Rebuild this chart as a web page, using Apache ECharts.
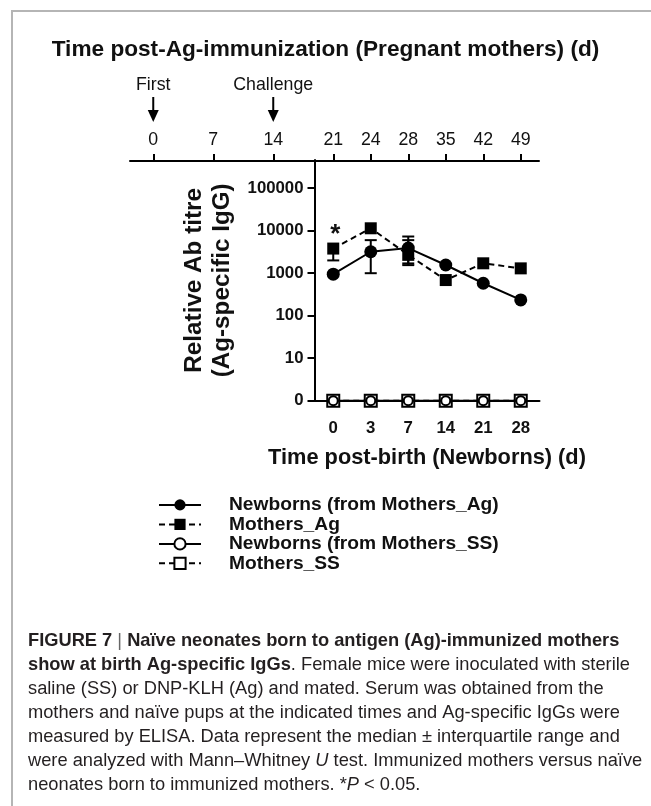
<!DOCTYPE html>
<html><head><meta charset="utf-8">
<script src="https://cdn.jsdelivr.net/npm/echarts@6/dist/echarts.min.js"></script>
<style>html,body{margin:0;padding:0;background:#fff}#c{width:651px;height:806px}</style>
</head><body><div id="c"></div>
<script>
// ---------- data ----------
const newbornDays = ['0', '3', '7', '14', '21', '28'];          // bottom axis (post-birth)
const motherDays = [0, 7, 14, 21, 24, 28, 35, 42, 49];          // top axis (post-immunization)
const yTickValues = [1, 10, 100, 1000, 10000, 100000];           // 1 is labelled "0"
const newbornsAg = [950, 3200, 3900, 1560, 580, 235];
const newbornsAgLow = [null, 1000, 1700, null, null, null];
const newbornsAgHigh = [null, 6000, 7300, null, null, null];
const mothersAg = [3800, 11400, 2700, 690, 1710, 1300];
const mothersAgLow = [2000, null, 1550, null, null, null];
const mothersAgHigh = [null, null, 6000, null, null, null];
const newbornsSS = [1, 1, 1, 1, 1, 1];   // undetectable -> axis floor labelled "0"
const mothersSS = [1, 1, 1, 1, 1, 1];
const seriesNames = ['Newborns (from Mothers_Ag)', 'Mothers_Ag', 'Newborns (from Mothers_SS)', 'Mothers_SS'];
const titleText = 'Time post-Ag-immunization (Pregnant mothers) (d)';
const xNameText = 'Time post-birth (Newborns) (d)';
const yNameLines = ['Relative Ab titre', '(Ag-specific IgG)'];
const annotations = [{day: 0, text: 'First'}, {day: 14, text: 'Challenge'}];
const capLines = [
  '{b|FIGURE 7} {bar||} {b|Naïve neonates born to antigen (Ag)-immunized mothers}',
  '{b|show at birth Ag-specific IgGs}{n|. Female mice were inoculated with sterile}',
  '{n|saline (SS) or DNP-KLH (Ag) and mated. Serum was obtained from the}',
  '{n|mothers and naïve pups at the indicated times and Ag-specific IgGs were}',
  '{n|measured by ELISA. Data represent the median ± interquartile range and}',
  '{n|were analyzed with Mann–Whitney }{i|U}{n| test. Immunized mothers versus naïve}',
  '{n|neonates born to immunized mothers. *}{i|P}{n| < 0.05.}'
];

// ---------- fonts: sizes fitted to the text widths of the figure ----------
const SANS = "'Liberation Sans', Arial, Helvetica, sans-serif";
const cv = document.createElement('canvas').getContext('2d');
function widthAt100(weight, text) { cv.font = weight + ' 100px ' + SANS; return cv.measureText(text).width; }
function fit(weight, text, target) { return +(target / widthAt100(weight, text) * 100).toFixed(2); }
const fsTitle = fit('bold', titleText, 548);
const fsXName = fit('bold', xNameText, 318);
const fsYName = fit('bold', yNameLines[1], 194);
const fsLegend = fit('bold', seriesNames[0], 270);
const fsTick = fit('bold', '100000', 56);
const fsTop = fit('normal', 'Challenge', 80);
const fsCap = fit('normal', 'mothers and naïve pups at the indicated times and Ag-specific IgGs were', 592);
const INK = '#111';

// ---------- layout ----------
const gA = {left: 314.5, width: 225, top: 160, height: 240.7};
const band = gA.width / newbornDays.length;
const origin = gA.left + band / 2;
const topLeft = 130, topRight = 539;
function toU(d) { return d >= 21 ? newbornDays.indexOf(String(d - 21)) : (d - 21) * 4.8 / 21; }
const topU = motherDays.map(toU);
const yNameLH = fsYName * 1.15;
const legendPitch = 19.7;

const chart = echarts.init(document.getElementById('c'), null, {renderer: 'canvas'});

function errRender(lowArr, highArr) {
  return function (params, api) {
    const i = api.value(0);
    const children = [];
    const c = api.coord([i, api.value(1)]);
    const cap = 6;
    [lowArr[i], highArr[i]].forEach(v => {
      if (v == null) return;
      const p = api.coord([i, v]);
      children.push({type: 'line', shape: {x1: c[0], y1: c[1], x2: p[0], y2: p[1]}, style: {stroke: '#000', lineWidth: 2}});
      children.push({type: 'line', shape: {x1: p[0] - cap, y1: p[1], x2: p[0] + cap, y2: p[1]}, style: {stroke: '#000', lineWidth: 2}});
    });
    return {type: 'group', children};
  };
}

const option = {
  backgroundColor: '#fff',
  animation: false,
  title: {
    text: titleText, left: 'center', top: 46 - fsTitle / 2 - 1,
    textStyle: {fontFamily: SANS, fontWeight: 'bold', fontSize: fsTitle, color: INK}
  },
  legend: {
    orient: 'vertical', left: 158, top: 505 - fsLegend / 2, padding: 0,
    itemWidth: 42, itemHeight: 14, itemGap: legendPitch - fsLegend,
    data: seriesNames,
    textStyle: {fontFamily: SANS, fontWeight: 'bold', fontSize: fsLegend, color: INK, padding: [0, 0, 0, 23]}
  },
  grid: [
    {left: gA.left, width: gA.width, top: gA.top, height: gA.height},
    {left: topLeft, width: topRight - topLeft, top: gA.top, height: 1}
  ],
  xAxis: [
    {
      type: 'category', gridIndex: 0, data: newbornDays, boundaryGap: true,
      name: xNameText, nameLocation: 'middle', nameGap: 458 - 401 - fsXName / 2,
      nameTextStyle: {fontFamily: SANS, fontWeight: 'bold', fontSize: fsXName, color: INK},
      axisLine: {lineStyle: {color: '#000', width: 2}},
      axisTick: {show: false},
      axisLabel: {fontFamily: SANS, fontWeight: 'bold', fontSize: fsTick, color: INK, margin: 28 - fsTick / 2, interval: 0},
      splitLine: {show: false}
    },
    {
      type: 'value', gridIndex: 1, position: 'top',
      min: (topLeft - origin) / band, max: (topRight - origin) / band,
      axisLine: {lineStyle: {color: '#000', width: 2}},
      axisTick: {customValues: topU, length: 7, lineStyle: {color: '#000', width: 2}},
      axisLabel: {
        customValues: topU, margin: 20 - fsTop / 2, fontFamily: SANS, fontSize: fsTop, color: INK,
        formatter: v => { const k = topU.findIndex(u => Math.abs(u - v) < 1e-6); return k >= 0 ? String(motherDays[k]) : ''; }
      },
      splitLine: {show: false}
    }
  ],
  yAxis: [
    {
      type: 'log', logBase: 10, gridIndex: 0, min: 1, max: 461000,
      name: yNameLines.join('\n'), nameLocation: 'middle', nameRotate: 90, nameGap: 315 - 222 - yNameLH / 2 - 1,
      nameTextStyle: {fontFamily: SANS, fontWeight: 'bold', fontSize: fsYName, color: INK, lineHeight: yNameLH},
      axisLine: {show: true, lineStyle: {color: '#000', width: 2}},
      axisTick: {show: true, length: 7, lineStyle: {color: '#000', width: 2}},
      axisLabel: {
        fontFamily: SANS, fontWeight: 'bold', fontSize: fsTick, color: INK, margin: 11, showMaxLabel: false,
        formatter: v => { const r = Math.round(v); return r === 1 ? '0' : (yTickValues.indexOf(r) >= 0 ? String(r) : ''); }
      },
      splitLine: {show: false}
    },
    {type: 'value', gridIndex: 1, show: false}
  ],
  series: [
    {
      name: seriesNames[0], type: 'line', xAxisIndex: 0, yAxisIndex: 0, data: newbornsAg, clip: false,
      symbol: 'circle', symbolSize: 13, itemStyle: {color: '#000'}, lineStyle: {color: '#000', width: 2}, z: 4
    },
    {
      name: seriesNames[1], type: 'line', xAxisIndex: 0, yAxisIndex: 0, data: mothersAg, clip: false,
      symbol: 'rect', symbolSize: 12, itemStyle: {color: '#000'}, lineStyle: {color: '#000', width: 2, type: [6, 4]}, z: 4,
      markPoint: {
        symbol: 'circle', symbolSize: 0,
        label: {show: true, formatter: '*', position: 'inside', offset: [2, -14], fontFamily: SANS, fontWeight: 'bold', fontSize: 26, color: INK},
        data: [{coord: [0, mothersAg[0]]}]
      }
    },
    {
      name: seriesNames[3], type: 'line', xAxisIndex: 0, yAxisIndex: 0, data: mothersSS, clip: false,
      symbol: 'emptyRect', symbolSize: 12, itemStyle: {color: '#000', borderWidth: 2}, lineStyle: {color: '#000', width: 2, type: [6, 4]}, z: 3
    },
    {
      name: seriesNames[2], type: 'line', xAxisIndex: 0, yAxisIndex: 0, data: newbornsSS, clip: false,
      symbol: 'emptyCircle', symbolSize: 9, itemStyle: {color: '#000', borderWidth: 1.5}, lineStyle: {color: '#000', width: 2}, z: 4
    },
    {
      type: 'custom', xAxisIndex: 0, yAxisIndex: 0, z: 2,
      data: newbornsAg.map((v, i) => [i, v]), renderItem: errRender(newbornsAgLow, newbornsAgHigh)
    },
    {
      type: 'custom', xAxisIndex: 0, yAxisIndex: 0, z: 2,
      data: mothersAg.map((v, i) => [i, v]), renderItem: errRender(mothersAgLow, mothersAgHigh)
    }
  ]
};
chart.setOption(option);

// ---------- annotations: arrows on the top axis, frame, caption ----------
const g = [];
annotations.forEach(a => {
  const x = chart.convertToPixel({xAxisIndex: 1}, toU(a.day));
  g.push({type: 'text', x: x, y: 85, style: {text: a.text, fontFamily: SANS, fontSize: fsTop, fill: INK, align: 'center', verticalAlign: 'middle'}});
  g.push({type: 'line', shape: {x1: x, y1: 97, x2: x, y2: 112}, style: {stroke: '#000', lineWidth: 2}});
  g.push({type: 'polygon', shape: {points: [[x - 5.5, 110], [x + 5.5, 110], [x, 122]]}, style: {fill: '#000'}});
});
g.push({type: 'polyline', shape: {points: [[12, 806], [12, 11], [651, 11]]}, style: {stroke: '#b5b5b5', lineWidth: 2, fill: null}});

capLines.forEach((t, k) => {
  g.push({type: 'text', x: 28, y: 641 + k * 24, style: {
    text: t, verticalAlign: 'middle', fontFamily: SANS, fontSize: fsCap, fill: '#231f20',
    rich: {
      b: {fontFamily: SANS, fontSize: fsCap, fontWeight: 'bold', fill: '#231f20'},
      n: {fontFamily: SANS, fontSize: fsCap, fill: '#231f20'},
      i: {fontFamily: SANS, fontSize: fsCap, fontStyle: 'italic', fill: '#231f20'},
      bar: {fontFamily: SANS, fontSize: fsCap, fill: '#666'}
    }
  }});
});
chart.setOption({graphic: {elements: g}});
</script>
</body></html>
